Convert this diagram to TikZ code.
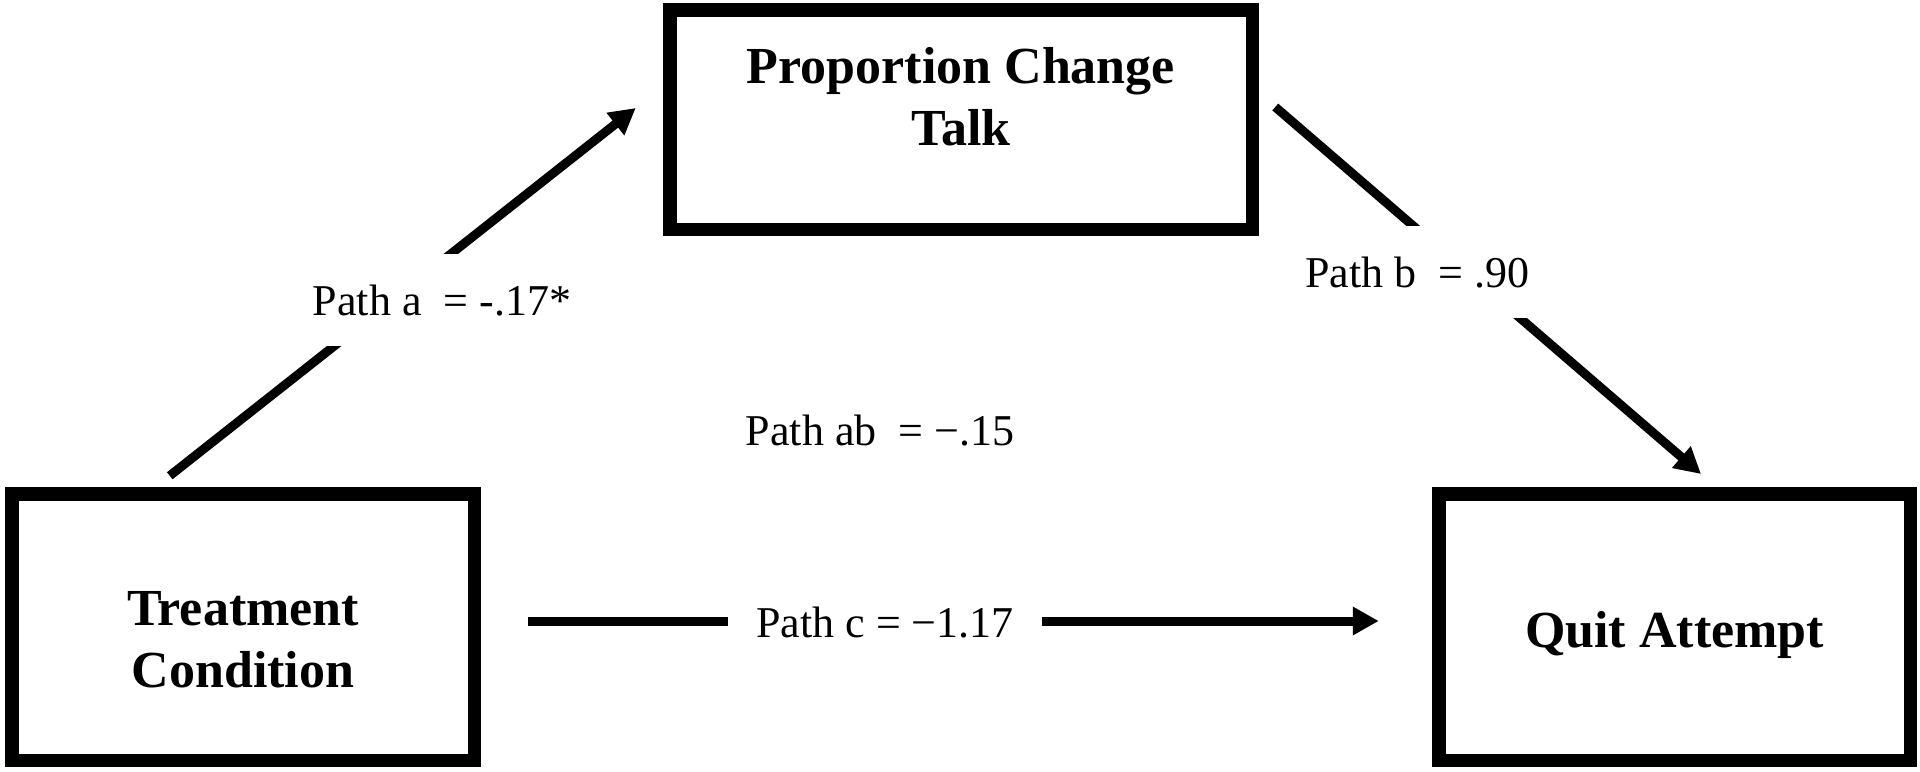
\documentclass[tikz,border=0pt]{standalone}
\usepackage{fontspec}
\setmainfont{Liberation Serif}
\usepackage{tikz}
\usetikzlibrary{arrows.meta, calc}

\begin{document}
\begin{tikzpicture}[
    x=0.5pt, y=-0.5pt,
    box/.style={draw, line width=6.75pt, inner sep=0pt, outer sep=0pt},
    boxtext/.style={font=\fontsize{26}{31}\selectfont\bfseries, align=center},
    pathlbl/.style={font=\fontsize{22}{26}\selectfont, fill=white, inner xsep=5pt, inner ysep=15pt, anchor=base},
    arr/.style={-{Triangle[length=13pt, width=13.5pt]}, line width=4.5pt},
  ]
    \useasboundingbox (0,0) rectangle (1920,771);

    \node[box, minimum width=291.25pt, minimum height=109.75pt] (talk) at (961,119.5) {};
    \node[box, minimum width=231.25pt, minimum height=133.25pt] (treat) at (243,627) {};
    \node[box, minimum width=235.75pt, minimum height=133.25pt] (quit) at (1674.5,627) {};

    \node[boxtext] (talktext) at (961,97) {Proportion Change\\Talk};
    \node[boxtext] (treattext) at (243,640) {Treatment\\Condition};
    \node[boxtext, anchor=base] (quittext) at (1674.5,647) {Quit Attempt};

    \draw[arr] ($(treat.north west)+(158,-18)$) -- ($(talk.west)+(-34,-11.5)$);
    \draw[arr] ($(talk.east)+(23,-12.5)$) -- ($(quit.north)+(26.5,-19.75)$);
    \draw[arr] ($(treat.east)+(54,-6)$) -- ($(quit.west)+(-60,-6)$);

    \node[pathlbl] (pa) at (442,315) {Path a \ = -.17*};
    \node[pathlbl] (pb) at (1417,287) {Path b \ = .90};
    \node[pathlbl] (pab) at (880,445) {Path ab \ = −.15};
    \node[pathlbl, inner xsep=14pt] (pc) at (885,637) {Path c = −1.17};
  \end{tikzpicture}
\end{document}
